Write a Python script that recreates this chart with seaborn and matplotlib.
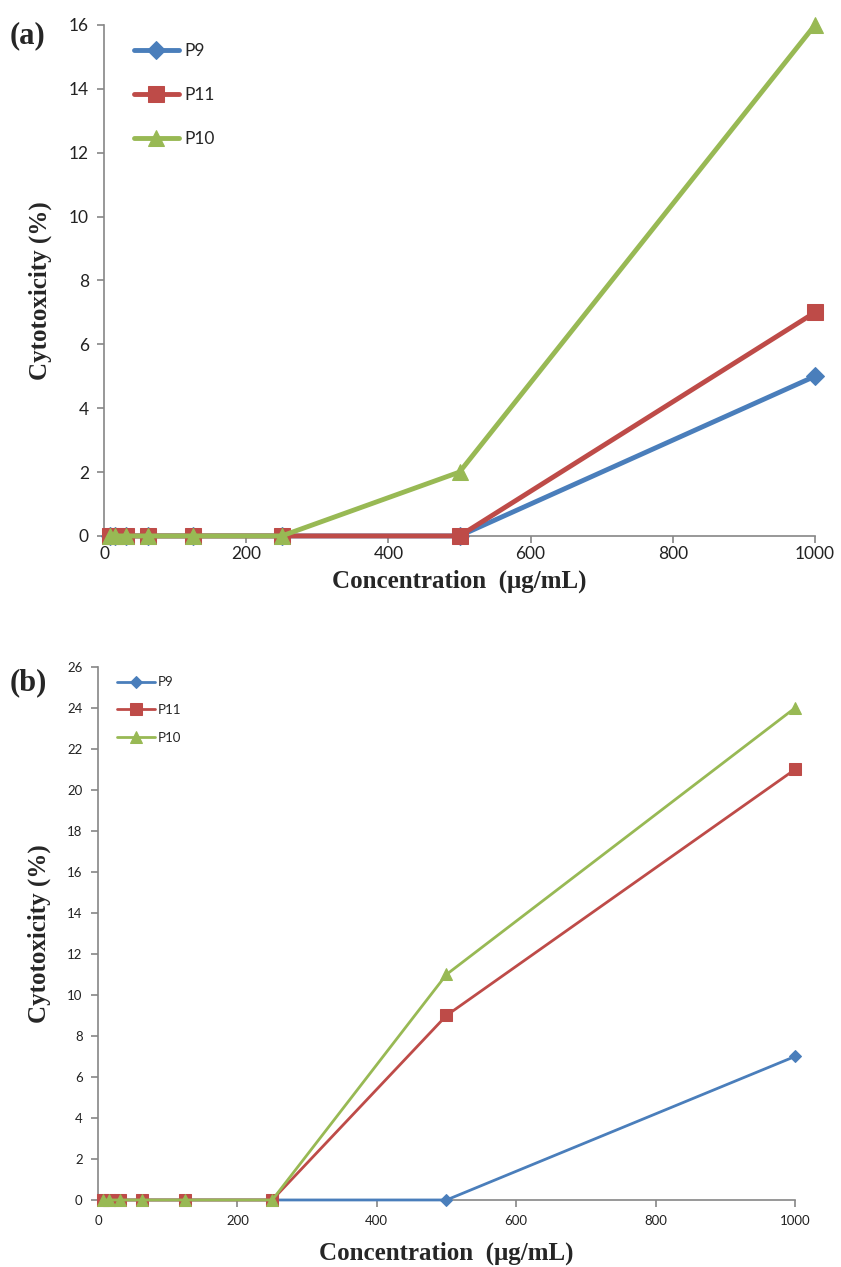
import numpy as np
import pandas as pd
import matplotlib
matplotlib.use("Agg")
import matplotlib.pyplot as plt
import seaborn as sns

# Concentrations tested (µg/mL)
conc = [7.8, 15.6, 31.25, 62.5, 125, 250, 500, 1000]

# Panel (a) cytotoxicity (%)
a_p9 = [0, 0, 0, 0, 0, 0, 0, 5]
a_p11 = [0, 0, 0, 0, 0, 0, 0, 7]
a_p10 = [0, 0, 0, 0, 0, 0, 2, 16]

# Panel (b) cytotoxicity (%)
b_p9 = [0, 0, 0, 0, 0, 0, 0, 7]
b_p11 = [0, 0, 0, 0, 0, 0, 9, 21]
b_p10 = [0, 0, 0, 0, 0, 0, 11, 24]

series_names = ["P9", "P11", "P10"]
colors = {"P9": "#4A7EBB", "P11": "#BE4B48", "P10": "#98B954"}
markers = {"P9": "D", "P11": "s", "P10": "^"}

sns.set_style("white")
plt.rcParams["font.family"] = ["Lato", "DejaVu Sans"]

fig = plt.figure(figsize=(8.41, 12.67), dpi=100)

axis_grey = "#868686"
serif = ["Liberation Serif", "DejaVu Serif"]


def draw_panel(ax, values, ymax, ystep, lw, msizes, tick_fs, tick_pad,
               xlabelpad, leg_fs, leg_kw):
    frames = []
    for name, vals in zip(series_names, values):
        frames.append(pd.DataFrame({"conc": conc, "cyto": vals, "sample": name}))
    df = pd.concat(frames, ignore_index=True)
    for name in series_names:
        sub = df[df["sample"] == name]
        sns.lineplot(data=sub, x="conc", y="cyto", ax=ax, color=colors[name],
                     marker=markers[name], markersize=msizes[name],
                     markeredgecolor=colors[name], linewidth=lw,
                     label=name, clip_on=False, zorder=3)
    ax.set_xlim(0, 1000)
    ax.set_ylim(0, ymax)
    ax.set_xticks(np.arange(0, 1001, 200))
    ax.set_yticks(np.arange(0, ymax + 1, ystep))
    for s in ["top", "right"]:
        ax.spines[s].set_visible(False)
    for s in ["left", "bottom"]:
        ax.spines[s].set_color(axis_grey)
        ax.spines[s].set_linewidth(1.2)
    ax.tick_params(axis="both", direction="out", length=5, width=1.2,
                   bottom=True, left=True, color=axis_grey,
                   labelsize=tick_fs, labelcolor="#222222")
    ax.tick_params(axis="x", pad=tick_pad)
    ax.tick_params(axis="y", pad=6)
    ax.set_xlabel("Concentration  (μg/mL)", family=serif, fontweight="bold",
                  fontsize=18, labelpad=xlabelpad)
    ax.set_ylabel("Cytotoxicity (%)", family=serif, fontweight="bold",
                  fontsize=18, labelpad=12)
    ax.legend(frameon=False, fontsize=leg_fs, **leg_kw)


ax_a = fig.add_axes([0.1237, 0.5770, 0.8454, 0.4033])
draw_panel(ax_a, [a_p9, a_p11, a_p10], 16, 2, 3.5,
           {"P9": 9, "P11": 11, "P10": 11}, 12.5, 2, 6, 12.5,
           dict(loc="upper left", bbox_to_anchor=(0.02, 0.995), labelspacing=1.6,
                handlelength=2.6, handletextpad=0.3))
ax_a.yaxis.label.set_y(0.48)

ax_b = fig.add_axes([0.1165, 0.0529, 0.8288, 0.4207])
draw_panel(ax_b, [b_p9, b_p11, b_p10], 26, 2, 2.0,
           {"P9": 6, "P11": 9, "P10": 9}, 9.5, 6, 10, 9.5,
           dict(loc="upper left", bbox_to_anchor=(0.01, 1.005), labelspacing=1.2,
                handlelength=2.9, handletextpad=0.2))

fig.text(0.012, 0.966, "(a)", family=serif, fontweight="bold", fontsize=22)
fig.text(0.012, 0.455, "(b)", family=serif, fontweight="bold", fontsize=22)

fig.savefig("out.png", dpi=100)
